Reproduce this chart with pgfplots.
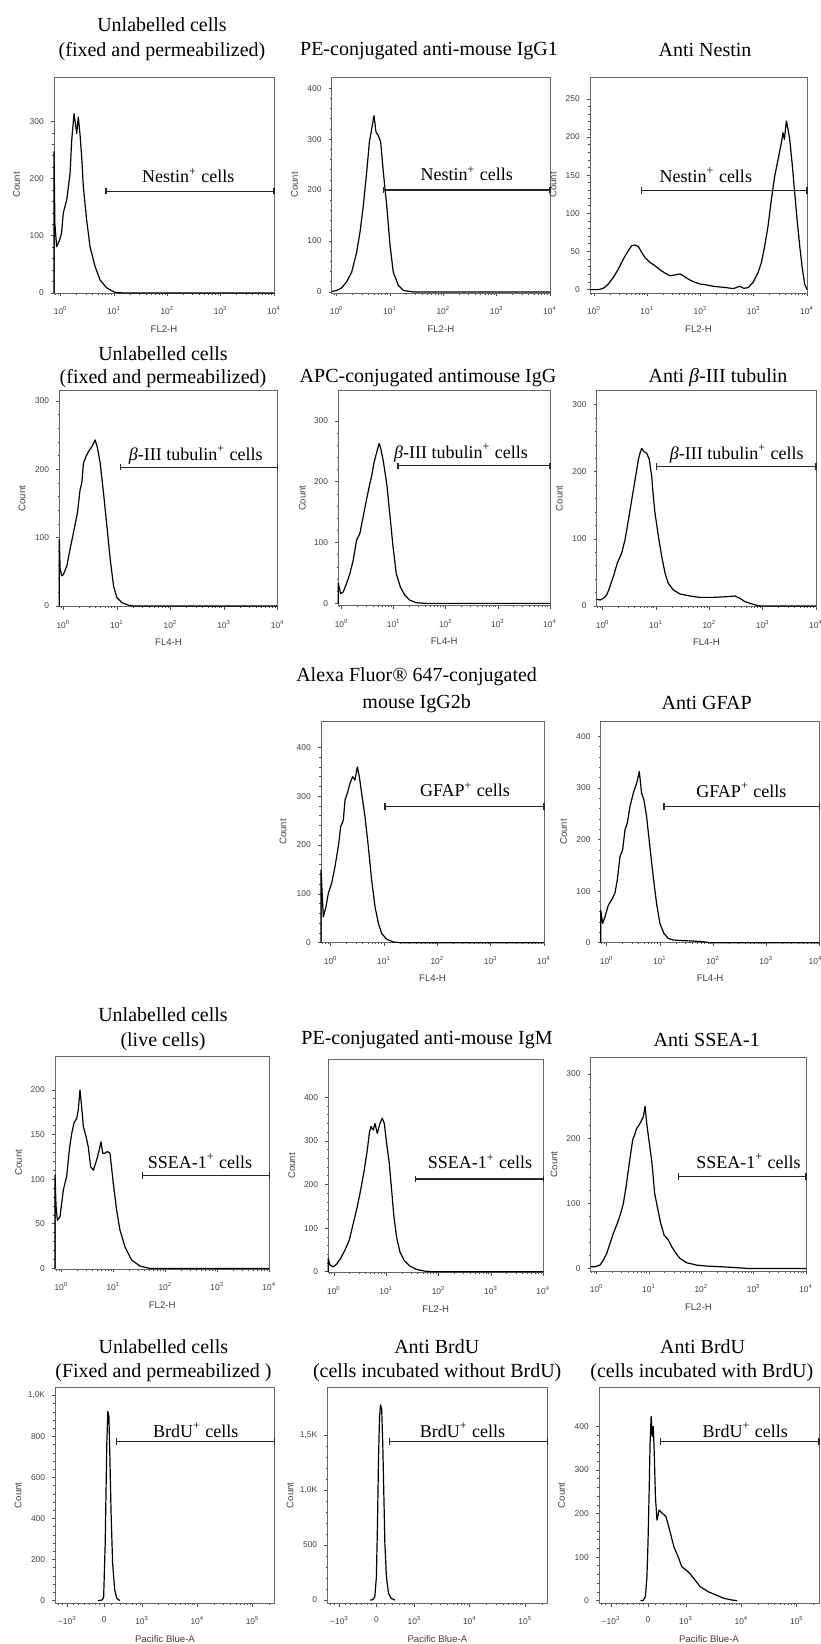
\documentclass[border=0pt]{standalone}
\usepackage{fontspec}
\setmainfont{Liberation Serif}
\setsansfont{Liberation Sans}
\usepackage{pgfplots}
\pgfplotsset{compat=1.18}

\newcommand\titlefont{\fontsize{10}{12}\selectfont\rmfamily}
\newcommand\gatefont{\fontsize{9}{11}\selectfont\rmfamily}
\newcommand\tickfont{\fontsize{4.2}{4.6}\selectfont\sffamily}
\newcommand\labfont{\fontsize{4.8}{5.2}\selectfont\sffamily}

\tikzset{gatelab/.style={font=\gatefont, anchor=center}}
\pgfplotsset{
  flow/.style={
    scale only axis, anchor=south west, clip=false,
    axis line style={black!60, line width=0.45pt},
    tick align=outside, tick pos=left,
    major tick length=1.6pt, minor tick length=0.9pt,
    tick style={black!70, line width=0.35pt},
    minor y tick num=4,
    /pgf/number format/assume math mode=true,
    ticklabel style={font=\tickfont, text=black!75},
    xticklabel style={yshift=-1.5pt},
    every axis y label/.style={at={(axis description cs:-0.17,0.5)}, rotate=90, anchor=center, font=\labfont, text=black!75},
    every axis x label/.style={at={(axis description cs:0.5,0)}, yshift=-18pt, anchor=center, font=\labfont, text=black!75},
    ylabel={Count},
  },
  flowlog/.style={flow, xmax=10000,
    xtick={1,10,100,1000,10000},
    xticklabels={10\textsuperscript{0},10\textsuperscript{1},10\textsuperscript{2},10\textsuperscript{3},10\textsuperscript{4}},
    minor xtick={0.6,0.7,0.8,0.9,2,3,4,5,6,7,8,9,20,30,40,50,60,70,80,90,200,300,400,500,600,700,800,900,2000,3000,4000,5000,6000,7000,8000,9000},
  },
  biex/.style={flow, xmin=1.43, xmax=5.4,
    xtick={1.648,2.314,3,4,5},
    xticklabels={−10\textsuperscript{3},0,10\textsuperscript{3},10\textsuperscript{4},10\textsuperscript{5}},
    minor xtick={1.48,1.55,1.75,1.85,1.95,2.05,2.15,2.23,2.45,2.6,2.72,2.82,2.9,2.96,3.301,3.477,3.602,3.699,3.778,3.845,3.903,3.954,4.301,4.477,4.602,4.699,4.778,4.845,4.903,4.954,5.301},
    xlabel={Pacific Blue-A},
  },
  hist/.style={black, line width=0.6pt, line join=round},
  gate/.style={black!85, line width=0.7pt, mark=|, mark size=1.6pt, mark options={line width=0.6pt, solid}},
}

\begin{document}
\begin{tikzpicture}
\path[use as bounding box] (0,0) rectangle (410pt,822pt);

% ---------------- row 1 : Nestin ----------------
\begin{axis}[xmode=log, flowlog, at={(27pt,675.5pt)}, width=110pt, height=108pt,
  xmin=0.75, ymin=0, ymax=378, ytick={0,100,200,300}, xlabel={FL2-H}]
\addplot[hist] coordinates {(0.75,0) (0.75,247) (0.78,120) (0.84,81) (0.95,92) (1.04,105) (1.12,140) (1.30,163) (1.50,209) (1.61,267) (1.78,314) (2.0,279) (2.14,308) (2.30,279) (2.48,238) (2.66,186) (3.07,128) (3.55,81) (4.40,47) (5.46,23) (7.29,9) (10.4,1) (15,0) (10000,0)};
\addplot[gate] coordinates {(7.08,178) (10000,178)};
\node[gatelab] at (axis cs:247,205) {Nestin\textsuperscript{+} cells};
\end{axis}

\begin{axis}[xmode=log, flowlog, at={(165.85pt,675.5pt)}, width=109.15pt, height=108pt,
  xmin=0.806, ymin=-2, ymax=422, ytick={0,100,200,300,400}, xlabel={FL2-H}]
\addplot[hist] coordinates {(0.806,1) (1,3) (1.24,8) (1.54,20) (1.91,39) (2.37,78) (2.74,118) (3.16,170) (3.65,235) (4.10,294) (4.53,320) (5.01,346) (5.46,314) (6.04,307) (6.68,294) (7.50,235) (8.66,170) (10,92) (11.5,39) (14.3,13) (17.8,3) (27.4,0) (10000,0)};
\addplot[gate] coordinates {(7.5,200) (10000,200)};
\node[gatelab] at (axis cs:274,232) {Nestin\textsuperscript{+} cells};
\end{axis}

\begin{axis}[xmode=log, flowlog, at={(295pt,675.5pt)}, width=108.5pt, height=108pt,
  xmin=0.84, ymin=-4.4, ymax=278.7, ytick={0,50,100,150,200,250}, xlabel={FL2-H}]
\addplot[hist] coordinates {(0.84,0) (0.97,0) (1.21,0) (1.50,1.7) (1.86,7.4) (2.30,16) (2.86,27) (3.55,40) (4.22,49) (5.08,57.5) (5.87,58.4) (6.78,56.6) (7.83,49) (9.04,42) (11.2,35.7) (13.9,31.4) (17.3,26) (21.4,21.8) (26.6,18.3) (33.0,19.2) (41.0,20.5) (47.3,18.3) (58.7,13.9) (72.9,10.5) (97.2,7.4) (130,6.1) (173,4.4) (230,3.5) (307,2.6) (410,1.3) (546,4.4) (649,1.7) (783,2.6) (972,9.6) (1206,22.6) (1393,35.7) (1608,57.5) (1857,83.6) (2144,118.5) (2477,149) (2860,170.7) (3304,192.5) (3548,205.6) (3758,197) (4099,221) (4406,210) (4732,196.9) (5309,162) (5870,127.2) (6494,92.3) (7289,57.5) (8175,27) (9036,7.4) (10000,0)};
\addplot[gate] coordinates {(7.83,130) (10000,130)};
\node[gatelab] at (axis cs:126,150) {Nestin\textsuperscript{+} cells};
\end{axis}

% ---------------- row 2 : beta-III tubulin ----------------
\begin{axis}[xmode=log, flowlog, at={(29.65pt,518.65pt)}, width=109.2pt, height=108pt,
  xmin=0.84, ymin=-1, ymax=315, ytick={0,100,200,300}, xlabel={FL4-H}]
\addplot[hist] coordinates {(0.84,0) (0.84,97) (0.87,55) (0.93,44) (1.0,46) (1.155,58) (1.334,83) (1.54,107) (1.83,136) (2.05,170) (2.21,180) (2.37,209) (2.66,219) (2.94,226) (3.40,233) (3.92,243) (4.34,231) (4.87,209) (5.62,165) (6.49,117) (7.50,68) (8.66,29) (10,12) (12.4,5) (16.6,1) (20.5,0) (10000,0)};
\addplot[gate] coordinates {(11.5,203) (10000,203)};
\node[gatelab] at (axis cs:295,221) {\textit{β}-III tubulin\textsuperscript{+} cells};
\end{axis}

\begin{axis}[xmode=log, flowlog, at={(169.15pt,519.15pt)}, width=105.85pt, height=107.5pt,
  xmin=0.864, ymin=-3.8, ymax=350, ytick={0,100,200,300}, xlabel={FL4-H}]
\addplot[hist] coordinates {(0.864,0) (0.864,33) (0.957,16) (1.076,19) (1.246,33) (1.443,49) (1.671,71) (1.935,104) (2.24,115) (2.595,143) (3.00,170) (3.38,192) (3.74,208) (4.15,230) (4.66,247) (5.25,263) (5.65,255) (6.25,236) (6.73,219) (7.46,192) (8.39,148) (9.71,93) (11.2,49) (13.4,27) (16.2,14) (20.2,5.5) (27.1,1) (42.1,0) (10000,0)};
\addplot[gate] coordinates {(12.1,226.5) (10000,226.5)};
\node[gatelab] at (axis cs:196,247) {\textit{β}-III tubulin\textsuperscript{+} cells};
\end{axis}

\begin{axis}[xmode=log, flowlog, at={(298.35pt,518.65pt)}, width=109.65pt, height=108.35pt,
  xmin=0.772, ymin=-1, ymax=322, ytick={0,100,200,300}, xlabel={FL4-H}]
\addplot[hist] coordinates {(0.772,10) (0.891,9) (1.03,11.4) (1.19,16.4) (1.37,29) (1.585,44) (1.88,64) (2.27,79) (2.62,98.5) (3.03,128) (3.50,158) (4.04,188) (4.66,218) (5.01,228) (5.38,235) (5.96,230) (6.68,228) (7.50,218) (8.29,193) (8.91,163) (9.58,138) (11.1,103.5) (12.8,73.6) (14.8,48.8) (17.0,33.8) (21.1,23.9) (28.2,17.9) (43.4,14.9) (66.8,12.9) (119,12.9) (211,13.9) (303,14.9) (376,11.4) (466,6.5) (579,4) (772,1) (956,0) (10000,0)};
\addplot[gate] coordinates {(10.3,208) (10000,208)};
\node[gatelab] at (axis cs:326,227) {\textit{β}-III tubulin\textsuperscript{+} cells};
\end{axis}

% ---------------- row 3 : GFAP ----------------
\begin{axis}[xmode=log, flowlog, at={(160.5pt,350.65pt)}, width=111.5pt, height=110.85pt,
  xmin=0.659, ymin=0, ymax=454, ytick={0,100,200,300,400}, xlabel={FL4-H}]
\addplot[hist] coordinates {(0.659,0) (0.659,149) (0.708,80) (0.729,53) (0.818,74) (0.904,101) (1.044,121.5) (1.206,156) (1.393,197) (1.54,237.5) (1.728,251) (1.857,292) (2.054,306) (2.30,326) (2.585,340) (2.86,333) (3.16,360) (3.45,340) (3.81,306) (4.40,258) (5.08,197) (5.87,128) (6.78,74) (7.83,40) (9.04,19) (11.2,7) (15.0,1.4) (20.0,0) (10000,0)};
\addplot[gate] coordinates {(10.4,278.5) (10000,278.5)};
\node[gatelab] at (axis cs:330,313) {GFAP\textsuperscript{+} cells};
\end{axis}

\begin{axis}[xmode=log, flowlog, at={(300.35pt,350.65pt)}, width=109.4pt, height=110.85pt,
  xmin=0.772, ymin=0, ymax=430, ytick={0,100,200,300,400}, xlabel={FL4-H},
  xticklabels={10\textsuperscript{0},10\textsuperscript{1},10\textsuperscript{2},10\textsuperscript{3},\hspace*{-4pt}10\textsuperscript{4}}]
\addplot[hist] coordinates {(0.772,0) (0.772,63) (0.841,37.5) (0.931,50.5) (1.075,73) (1.24,83) (1.43,96) (1.585,122) (1.778,167) (1.995,180) (2.21,219) (2.44,232) (2.74,264) (3.16,290) (3.65,309) (4.10,332) (4.53,290) (5.01,277) (5.62,245) (6.49,186) (7.50,128) (8.66,76) (10,37.5) (11.9,18) (14.3,8.4) (17.8,5.2) (27.4,3.9) (42.2,3.2) (64.9,1.9) (86.6,0) (10000,0)};
\addplot[gate] coordinates {(11.9,264) (10000,264)};
\node[gatelab] at (axis cs:339,296) {GFAP\textsuperscript{+} cells};
\end{axis}

% ---------------- row 4 : SSEA-1 ----------------
\begin{axis}[xmode=log, flowlog, at={(27.5pt,187.35pt)}, width=107.15pt, height=106.65pt,
  xmin=0.755, ymin=-1, ymax=238, ytick={0,50,100,150,200}, xlabel={FL2-H}]
\addplot[hist] coordinates {(0.755,0) (0.755,104.7) (0.79,70) (0.838,54) (0.943,58) (1.093,88) (1.266,103) (1.425,133) (1.58,151) (1.752,163) (1.972,168) (2.12,178) (2.285,200) (2.46,181) (2.65,159) (2.98,148) (3.30,136) (3.66,114) (4.12,110) (4.78,121.5) (5.38,133) (5.79,142) (6.24,129) (6.92,129) (7.67,131) (8.63,129) (10.0,95) (11.6,65) (13.4,43) (16.8,24) (22.5,9.3) (32.6,2.6) (50.7,0) (10000,0)};
\addplot[gate] coordinates {(36.6,104) (10000,104)};
\node[gatelab] at (axis cs:463,120) {SSEA-1\textsuperscript{+} cells};
\end{axis}

\begin{axis}[xmode=log, flowlog, at={(164.15pt,185.65pt)}, width=107.5pt, height=106.7pt,
  xmin=0.78, ymin=-2, ymax=487, ytick={0,100,200,300,400}, xlabel={FL2-H}]
\addplot[hist] coordinates {(0.78,0) (0.78,30.6) (0.839,15.3) (0.971,11.5) (1.124,17.6) (1.34,30.6) (1.62,49.7) (1.963,72.7) (2.34,111) (2.79,149) (3.23,187) (3.74,229) (4.34,279) (4.73,317) (5.09,333) (5.64,325) (6.07,340) (6.73,317) (7.57,340) (8.39,352) (9.16,340) (10.15,294) (11.4,249) (12.65,187) (14.0,126) (15.7,80) (18.2,46) (21.8,26.8) (28.3,13) (38.0,5.4) (54.8,1.5) (79.1,0) (10000,0)};
\addplot[gate] coordinates {(36.3,212.6) (10000,212.6)};
\node[gatelab] at (axis cs:616,252) {SSEA-1\textsuperscript{+} cells};
\end{axis}

\begin{axis}[xmode=log, flowlog, at={(295.35pt,186.5pt)}, width=107.65pt, height=106.65pt,
  xmin=0.768, ymin=-4, ymax=325, ytick={0,100,200,300}, xlabel={FL2-H}]
\addplot[hist] coordinates {(0.768,2.6) (0.929,2.6) (1.158,5.1) (1.34,12.9) (1.553,23) (1.798,38.6) (2.08,54) (2.48,69.5) (2.875,85) (3.23,100) (3.64,126) (4.03,152) (4.47,177.6) (4.87,198) (5.40,208) (5.81,216) (6.44,221) (7.03,226.5) (7.79,234) (8.39,250) (9.02,224) (10.15,193) (11.4,162) (12.8,116) (14.4,95) (16.7,69.5) (19.4,51.5) (23.4,43.7) (27.1,33.5) (32.8,23) (39.1,15.4) (52.5,8.7) (81.5,5.1) (126,3.6) (227,2.6) (408,1.5) (735,0) (10000,0)};
\addplot[gate] coordinates {(36.3,141.5) (10000,141.5)};
\node[gatelab] at (axis cs:794,165) {SSEA-1\textsuperscript{+} cells};
\end{axis}

% ---------------- row 5 : BrdU ----------------
\begin{axis}[biex, at={(27.65pt,20.35pt)}, width=109.7pt, height=108pt,
  ymin=-13, ymax=1040, ytick={0,200,400,600,800,1000}, yticklabels={0,200,400,600,800,{1,0K}}]
\addplot[hist] coordinates {(2.20,0) (2.257,2) (2.286,5) (2.305,19.5) (2.333,280) (2.362,767) (2.381,922) (2.4,898) (2.419,686) (2.438,442) (2.467,182) (2.505,52) (2.543,11) (2.6,0)};
\addplot[gate] coordinates {(2.543,776) (5.4,776)};
\node[gatelab] at (axis cs:3.97,832) {BrdU\textsuperscript{+} cells};
\end{axis}

\begin{axis}[biex, at={(163.7pt,20.35pt)}, width=110pt, height=108pt,
  ymin=-30, ymax=1933, ytick={0,500,1000,1500}, yticklabels={0,500,{1,0K},{1,5K}}]
\addplot[hist] coordinates {(2.20,0) (2.248,2) (2.286,30) (2.314,212) (2.333,667) (2.352,1273) (2.371,1667) (2.39,1773) (2.41,1727) (2.429,1424) (2.448,970) (2.467,515) (2.495,212) (2.533,61) (2.581,15) (2.648,0)};
\addplot[gate] coordinates {(2.552,1439) (5.4,1439)};
\node[gatelab] at (axis cs:3.867,1545) {BrdU\textsuperscript{+} cells};
\end{axis}

\begin{axis}[biex, at={(299.5pt,20.35pt)}, width=110pt, height=108pt,
  ymin=-6, ymax=490, ytick={0,100,200,300,400}]
\addplot[hist] coordinates {(2.18,0) (2.229,1) (2.267,9) (2.295,55) (2.314,132) (2.333,239) (2.352,362) (2.371,423) (2.39,377) (2.41,400) (2.429,331) (2.448,239) (2.476,185) (2.514,208) (2.571,201) (2.638,193) (2.705,162) (2.781,124) (2.857,101) (2.924,78) (3.0,70.5) (3.067,63) (3.162,47.5) (3.257,32) (3.4,20.7) (3.543,13) (3.686,5.4) (3.829,1.5) (3.924,0)};
\addplot[gate] coordinates {(2.543,365.5) (5.4,365.5)};
\node[gatelab] at (axis cs:4.067,392) {BrdU\textsuperscript{+} cells};
\end{axis}

% ---------------- titles ----------------
\begin{scope}[every node/.style={font=\titlefont, anchor=center, inner sep=0pt}]
\node at (81pt,809.5pt) {Unlabelled cells};
\node at (81pt,796pt) {(fixed and permeabilized)};
\node at (214.5pt,796.5pt) {PE-conjugated anti-mouse IgG1};
\node at (352.5pt,797pt) {Anti Nestin};
\node at (81.5pt,645pt) {Unlabelled cells};
\node at (81.5pt,632.5pt) {(fixed and permeabilized)};
\node at (214pt,633pt) {APC-conjugated antimouse IgG};
\node at (359pt,633pt) {Anti \textit{β}-III tubulin};
\node at (208.3pt,483.65pt) {Alexa Fluor® 647-conjugated};
\node at (208.3pt,470.35pt) {mouse IgG2b};
\node at (353.35pt,470.35pt) {Anti GFAP};
\node at (81.5pt,314.5pt) {Unlabelled cells};
\node at (81.5pt,301.15pt) {(live cells)};
\node at (213.5pt,302pt) {PE-conjugated anti-mouse IgM};
\node at (353.35pt,302pt) {Anti SSEA-1};
\node at (81.7pt,148.65pt) {Unlabelled cells};
\node at (81.7pt,135.65pt) {(Fixed and permeabilized )};
\node at (218.4pt,148.65pt) {Anti BrdU};
\node at (218.6pt,135.65pt) {(cells incubated without BrdU)};
\node at (351.3pt,148.65pt) {Anti BrdU};
\node at (350.9pt,135.65pt) {(cells incubated with BrdU)};
\end{scope}
\end{tikzpicture}
\end{document}
